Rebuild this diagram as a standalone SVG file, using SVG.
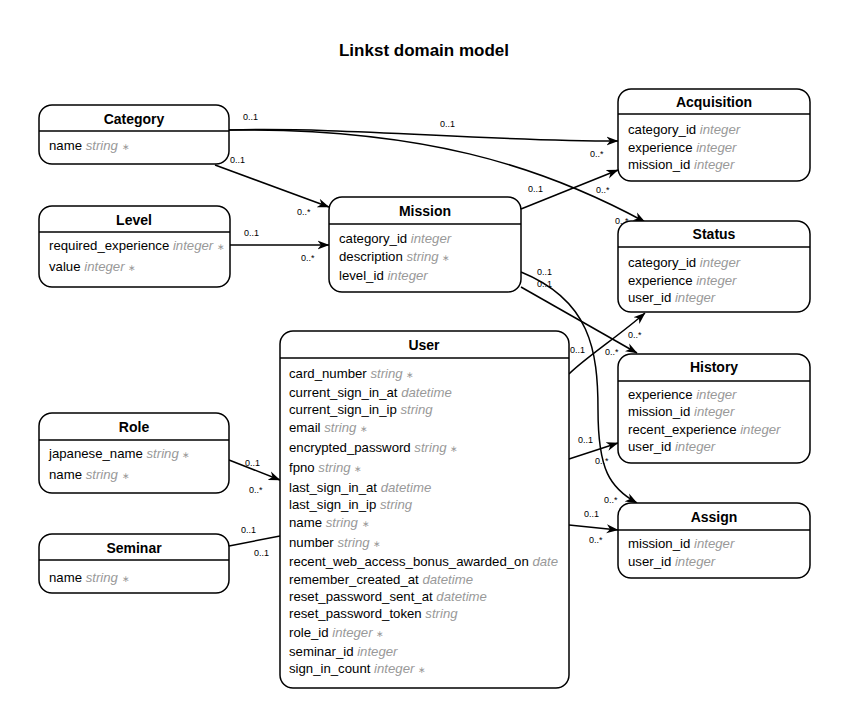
<svg xmlns="http://www.w3.org/2000/svg" width="849" height="727" viewBox="0 0 849 727">
<style>
.box{fill:#fff;stroke:#000;stroke-width:1.5}
.sep{stroke:#000;stroke-width:1.5}
.title{font-family:"Liberation Sans",Arial,sans-serif;font-size:17px;font-weight:bold;text-anchor:middle;fill:#000}
.nt{font-family:"Liberation Sans",Arial,sans-serif;font-size:14px;font-weight:bold;text-anchor:middle;fill:#000}
.at{font-family:"Liberation Sans",Arial,sans-serif;font-size:13.2px;fill:#000}
.ty{fill:#999;font-style:italic}
.rq{fill:#999;font-size:9px}
.lb{font-family:"Liberation Sans",Arial,sans-serif;font-size:9px;fill:#000}
.e{fill:none;stroke:#000;stroke-width:1.5}
</style>
<defs>
<marker id="ar" viewBox="0 0 12 10" refX="11.5" refY="5" markerWidth="12" markerHeight="10" markerUnits="userSpaceOnUse" orient="auto">
<path d="M0,0.5 L12,5 L0,9.5 L3.5,5 z" fill="#000"/>
</marker>
</defs>
<rect width="849" height="727" fill="#fff"/>
<text class="title" x="424" y="56">Linkst domain model</text>

<g id="connectors">
<path class="e" d="M229,130 C350,127 480,141 618,141" marker-end="url(#ar)"/>
<path class="e" d="M229,130 C420,128 540,165 645,222" marker-end="url(#ar)"/>
<path class="e" d="M215,165 L329,207" marker-end="url(#ar)"/>
<path class="e" d="M230,245 L329,245" marker-end="url(#ar)"/>
<path class="e" d="M521,209 L618,170" marker-end="url(#ar)"/>
<path class="e" d="M521,287 L637,353" marker-end="url(#ar)"/>
<path class="e" d="M521,272 C590,300 598,350 598,410 C598,470 610,488 637,503" marker-end="url(#ar)"/>
<path class="e" d="M569,374 C585,358 620,335 645,313" marker-end="url(#ar)"/>
<path class="e" d="M569,459 L618,443" marker-end="url(#ar)"/>
<path class="e" d="M569,525 L618,530" marker-end="url(#ar)"/>
<path class="e" d="M229,460 L280,480" marker-end="url(#ar)"/>
<path class="e" d="M229,546 L280,536"/>
<text class="lb" x="243" y="120">0..1</text>
<text class="lb" x="440" y="127">0..1</text>
<text class="lb" x="590" y="157">0..*</text>
<text class="lb" x="596" y="193">0..*</text>
<text class="lb" x="615" y="224">0..*</text>
<text class="lb" x="230" y="163">0..1</text>
<text class="lb" x="297" y="215">0..*</text>
<text class="lb" x="244" y="236">0..1</text>
<text class="lb" x="301" y="261">0..*</text>
<text class="lb" x="528" y="192">0..1</text>
<text class="lb" x="537" y="275">0..1</text>
<text class="lb" x="537" y="287">0..1</text>
<text class="lb" x="605" y="355">0..*</text>
<text class="lb" x="604" y="503">0..*</text>
<text class="lb" x="570" y="353">0..1</text>
<text class="lb" x="628" y="338">0..*</text>
<text class="lb" x="578" y="443">0..1</text>
<text class="lb" x="595" y="464">0..*</text>
<text class="lb" x="584" y="517">0..1</text>
<text class="lb" x="589" y="543">0..*</text>
<text class="lb" x="245" y="466">0..1</text>
<text class="lb" x="249" y="493">0..*</text>
<text class="lb" x="241" y="533">0..1</text>
<text class="lb" x="254" y="556">0..1</text>
</g>

<g id="Category">
<rect class="box" x="39" y="105" width="190" height="59" rx="13"/>
<line class="sep" x1="39" y1="131" x2="229" y2="131"/>
<text class="nt" x="134" y="124">Category</text>
<text class="at" x="49" y="150">name <tspan class="ty">string</tspan> <tspan class="rq">∗</tspan></text>
</g>

<g id="Level">
<rect class="box" x="39" y="206" width="191" height="81" rx="13"/>
<line class="sep" x1="39" y1="232" x2="230" y2="232"/>
<text class="nt" x="134" y="225">Level</text>
<text class="at" x="49" y="250">required_experience <tspan class="ty">integer</tspan> <tspan class="rq">∗</tspan></text>
<text class="at" x="49" y="271">value <tspan class="ty">integer</tspan> <tspan class="rq">∗</tspan></text>
</g>

<g id="Mission">
<rect class="box" x="329" y="197" width="192" height="95" rx="13"/>
<line class="sep" x1="329" y1="224" x2="521" y2="224"/>
<text class="nt" x="425" y="216">Mission</text>
<text class="at" x="339" y="243">category_id <tspan class="ty">integer</tspan></text>
<text class="at" x="339" y="261">description <tspan class="ty">string</tspan> <tspan class="rq">∗</tspan></text>
<text class="at" x="339" y="280">level_id <tspan class="ty">integer</tspan></text>
</g>

<g id="Acquisition">
<rect class="box" x="618" y="89" width="192" height="92" rx="13"/>
<line class="sep" x1="618" y1="114" x2="810" y2="114"/>
<text class="nt" x="714" y="107">Acquisition</text>
<text class="at" x="628" y="134">category_id <tspan class="ty">integer</tspan></text>
<text class="at" x="628" y="152">experience <tspan class="ty">integer</tspan></text>
<text class="at" x="628" y="169">mission_id <tspan class="ty">integer</tspan></text>
</g>

<g id="Status">
<rect class="box" x="618" y="221" width="192" height="91" rx="13"/>
<line class="sep" x1="618" y1="247" x2="810" y2="247"/>
<text class="nt" x="714" y="239">Status</text>
<text class="at" x="628" y="267">category_id <tspan class="ty">integer</tspan></text>
<text class="at" x="628" y="285">experience <tspan class="ty">integer</tspan></text>
<text class="at" x="628" y="302">user_id <tspan class="ty">integer</tspan></text>
</g>

<g id="History">
<rect class="box" x="618" y="354" width="192" height="109" rx="13"/>
<line class="sep" x1="618" y1="381" x2="810" y2="381"/>
<text class="nt" x="714" y="372">History</text>
<text class="at" x="628" y="399">experience <tspan class="ty">integer</tspan></text>
<text class="at" x="628" y="416">mission_id <tspan class="ty">integer</tspan></text>
<text class="at" x="628" y="434">recent_experience <tspan class="ty">integer</tspan></text>
<text class="at" x="628" y="451">user_id <tspan class="ty">integer</tspan></text>
</g>

<g id="Assign">
<rect class="box" x="618" y="503" width="192" height="75" rx="13"/>
<line class="sep" x1="618" y1="530" x2="810" y2="530"/>
<text class="nt" x="714" y="522">Assign</text>
<text class="at" x="628" y="548">mission_id <tspan class="ty">integer</tspan></text>
<text class="at" x="628" y="566">user_id <tspan class="ty">integer</tspan></text>
</g>

<g id="User">
<rect class="box" x="280" y="331" width="289" height="357" rx="13"/>
<line class="sep" x1="280" y1="358" x2="569" y2="358"/>
<text class="nt" x="424" y="350">User</text>
<text class="at" x="289" y="378">card_number <tspan class="ty">string</tspan> <tspan class="rq">∗</tspan></text>
<text class="at" x="289" y="397">current_sign_in_at <tspan class="ty">datetime</tspan></text>
<text class="at" x="289" y="414">current_sign_in_ip <tspan class="ty">string</tspan></text>
<text class="at" x="289" y="432">email <tspan class="ty">string</tspan> <tspan class="rq">∗</tspan></text>
<text class="at" x="289" y="452">encrypted_password <tspan class="ty">string</tspan> <tspan class="rq">∗</tspan></text>
<text class="at" x="289" y="472">fpno <tspan class="ty">string</tspan> <tspan class="rq">∗</tspan></text>
<text class="at" x="289" y="492">last_sign_in_at <tspan class="ty">datetime</tspan></text>
<text class="at" x="289" y="509">last_sign_in_ip <tspan class="ty">string</tspan></text>
<text class="at" x="289" y="527">name <tspan class="ty">string</tspan> <tspan class="rq">∗</tspan></text>
<text class="at" x="289" y="547">number <tspan class="ty">string</tspan> <tspan class="rq">∗</tspan></text>
<text class="at" x="289" y="566">recent_web_access_bonus_awarded_on <tspan class="ty">date</tspan></text>
<text class="at" x="289" y="584">remember_created_at <tspan class="ty">datetime</tspan></text>
<text class="at" x="289" y="601">reset_password_sent_at <tspan class="ty">datetime</tspan></text>
<text class="at" x="289" y="618">reset_password_token <tspan class="ty">string</tspan></text>
<text class="at" x="289" y="637">role_id <tspan class="ty">integer</tspan> <tspan class="rq">∗</tspan></text>
<text class="at" x="289" y="656">seminar_id <tspan class="ty">integer</tspan></text>
<text class="at" x="289" y="673">sign_in_count <tspan class="ty">integer</tspan> <tspan class="rq">∗</tspan></text>
</g>

<g id="Role">
<rect class="box" x="39" y="413" width="190" height="80" rx="13"/>
<line class="sep" x1="39" y1="440" x2="229" y2="440"/>
<text class="nt" x="134" y="432">Role</text>
<text class="at" x="49" y="458">japanese_name <tspan class="ty">string</tspan> <tspan class="rq">∗</tspan></text>
<text class="at" x="49" y="479">name <tspan class="ty">string</tspan> <tspan class="rq">∗</tspan></text>
</g>

<g id="Seminar">
<rect class="box" x="39" y="534" width="190" height="59" rx="13"/>
<line class="sep" x1="39" y1="560" x2="229" y2="560"/>
<text class="nt" x="134" y="553">Seminar</text>
<text class="at" x="49" y="582">name <tspan class="ty">string</tspan> <tspan class="rq">∗</tspan></text>
</g>
</svg>
